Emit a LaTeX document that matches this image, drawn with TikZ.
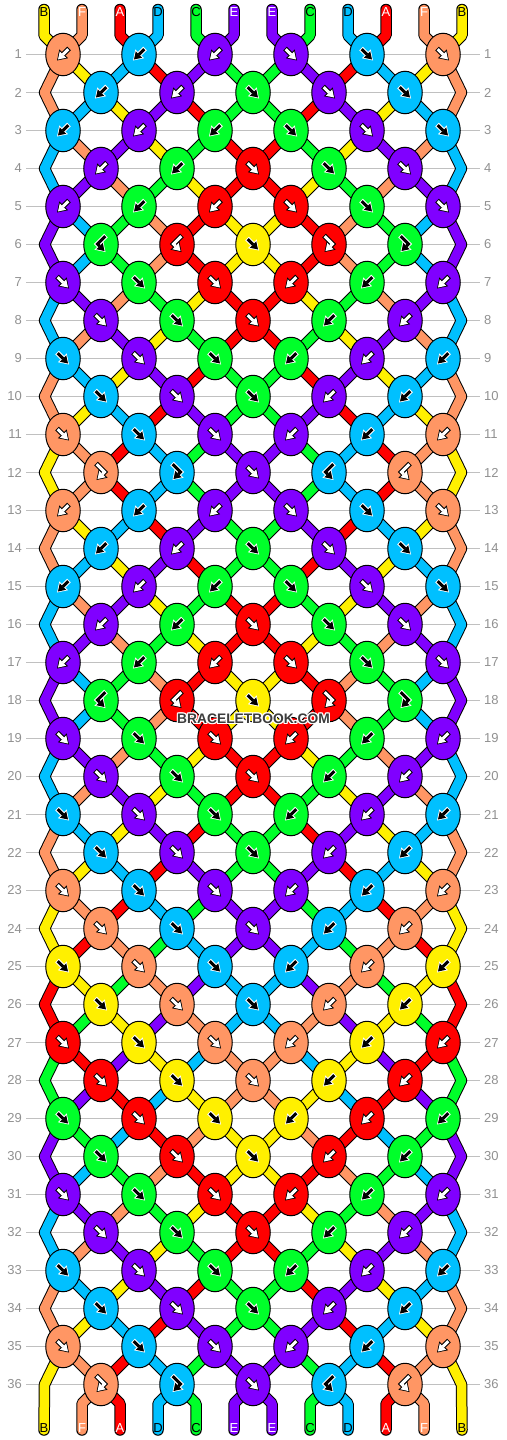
\documentclass[tikz,border=0pt]{standalone}
\usepackage{fontspec}
\setmainfont{Liberation Sans}
\usetikzlibrary{arrows.meta,shapes.geometric}

% thread colours
\definecolor{cA}{RGB}{255,0,0}
\definecolor{cB}{RGB}{255,240,0}
\definecolor{cC}{RGB}{0,255,42}
\definecolor{cD}{RGB}{0,192,255}
\definecolor{cE}{RGB}{128,0,255}
\definecolor{cF}{RGB}{255,150,100}
% arrow / letter colours per thread
\colorlet{fgA}{white}\colorlet{olA}{black}
\colorlet{fgB}{black}\colorlet{olB}{white}
\colorlet{fgC}{black}\colorlet{olC}{white}
\colorlet{fgD}{black}\colorlet{olD}{white}
\colorlet{fgE}{white}\colorlet{olE}{black}
\colorlet{fgF}{white}\colorlet{olF}{black}
\definecolor{gridgray}{RGB}{192,192,192}
\definecolor{numgray}{RGB}{145,145,145}
\definecolor{wmgray}{RGB}{60,60,60}

\tikzset{
  gridline/.style={draw=gridgray, line width=1pt},
  rownum/.style={text=numgray, font=\fontsize{13}{13}\selectfont, inner sep=0pt},
  strandout/.style={draw=black, line width=11.5pt, line join=round},
  strandin/.style={line width=9.5pt, line join=round},
  knot/.style={ellipse, draw=black, line width=1pt, minimum width=34.5pt, minimum height=42.5pt, inner sep=0pt},
  endletter/.style={font=\fontsize{13}{13}\selectfont, inner sep=0pt},
  arrback/.style={draw=al, line width=5pt, -{Triangle[length=9.5pt,width=12.5pt,line width=0pt]}},
  arrfront/.style={draw=af, line width=3pt, shorten <=1pt, shorten >=1.4pt, -{Triangle[length=7pt,width=9pt,line width=0pt]}},
  wmark/.style={font=\bfseries\fontsize{13.8}{13.8}\selectfont, inner sep=0pt}
}

% knot arrows: forward, backward, forward-backward, backward-forward
\newcommand\arrf{\draw[arrback] (-6,-6) -- (6,6); \draw[arrfront] (-6,-6) -- (6,6);}
\newcommand\arrb{\draw[arrback] (6,-6) -- (-6,6); \draw[arrfront] (6,-6) -- (-6,6);}
\newcommand\arrfb{\draw[arrback] (-5,-9) -- (3.5,-0.5) -- (-4.5,7.5); \draw[arrfront] (-5,-9) -- (3.5,-0.5) -- (-4.5,7.5);}
\newcommand\arrbf{\draw[arrback] (5,-9) -- (-3.5,-0.5) -- (4.5,7.5); \draw[arrfront] (5,-9) -- (-3.5,-0.5) -- (4.5,7.5);}

\begin{document}
\begin{tikzpicture}[x=1pt,y=-1pt]
\useasboundingbox (0,0) rectangle (506,1440);
\fill[white] (0,0) rectangle (506,1440);

% knot centres
\foreach \r in {1,...,36}{
  \pgfmathtruncatemacro\nk{5+mod(\r,2)}
  \foreach \k in {1,...,\nk}
    \coordinate (k\r-\k) at ({25+38*(2*\k-mod(\r,2))},{16.5+38*\r});
}
% edge turns
\foreach \r in {2,4,...,36}{
  \coordinate (eL\r) at (44.5,{16.5+38*\r});
  \coordinate (eR\r) at (461.5,{16.5+38*\r});
}
% thread ends
\foreach \p in {1,...,12}{
  \coordinate (top\p) at ({6+38*\p},9.5);
  \coordinate (tbend\p) at ({6+38*\p},35.5);
  \coordinate (bbend\p) at ({6+38*\p},1403.5);
  \coordinate (bot\p) at ({6+38*\p},1430);
}

% row lines and numbers
\foreach \r in {1,...,36}{
  \coordinate (gl\r) at (26,{16.5+38*\r});
  \coordinate (gr\r) at (480,{16.5+38*\r});
  \draw[gridline] (gl\r) -- (gr\r);
  \node[rownum, anchor=east] (nl\r) at (22,{16.5+38*\r}) {\r};
  \node[rownum, anchor=west] (nr\r) at (484,{16.5+38*\r}) {\r};
}

% top threads
\foreach \c [count=\p] in {B,F,A,D,C,E,E,C,D,A,F,B}{
  \pgfmathtruncatemacro\kt{(\p+1)/2}
  \draw[strandout, line cap=round] (top\p) -- (tbend\p) -- (k1-\kt);
  \draw[strandin, line cap=round, draw=c\c] (top\p) -- (tbend\p) -- (k1-\kt);
}

% threads between knots (colour after row \r)
\foreach \r/\s in {
  1/{F,B,D,A,E,C,C,E,A,D,B,F},
  2/{F,D,B,E,A,C,C,A,E,B,D,F},
  3/{D,F,E,B,C,A,A,C,B,E,F,D},
  4/{D,E,F,C,B,A,A,B,C,F,E,D},
  5/{E,D,C,F,A,B,B,A,F,C,D,E},
  6/{E,D,C,F,A,B,B,A,F,C,D,E},
  7/{D,E,F,C,B,A,A,B,C,F,E,D},
  8/{D,F,E,B,C,A,A,C,B,E,F,D},
  9/{F,D,B,E,A,C,C,A,E,B,D,F},
  10/{F,B,D,A,E,C,C,E,A,D,B,F},
  11/{B,F,A,D,C,E,E,C,D,A,F,B},
  12/{B,F,A,D,C,E,E,C,D,A,F,B},
  13/{F,B,D,A,E,C,C,E,A,D,B,F},
  14/{F,D,B,E,A,C,C,A,E,B,D,F},
  15/{D,F,E,B,C,A,A,C,B,E,F,D},
  16/{D,E,F,C,B,A,A,B,C,F,E,D},
  17/{E,D,C,F,A,B,B,A,F,C,D,E},
  18/{E,D,C,F,A,B,B,A,F,C,D,E},
  19/{D,E,F,C,B,A,A,B,C,F,E,D},
  20/{D,F,E,B,C,A,A,C,B,E,F,D},
  21/{F,D,B,E,A,C,C,A,E,B,D,F},
  22/{F,B,D,A,E,C,C,E,A,D,B,F},
  23/{B,F,A,D,C,E,E,C,D,A,F,B},
  24/{B,A,F,C,D,E,E,D,C,F,A,B},
  25/{A,B,C,F,E,D,D,E,F,C,B,A},
  26/{A,C,B,E,F,D,D,F,E,B,C,A},
  27/{C,A,E,B,D,F,F,D,B,E,A,C},
  28/{C,E,A,D,B,F,F,B,D,A,E,C},
  29/{E,C,D,A,F,B,B,F,A,D,C,E},
  30/{E,D,C,F,A,B,B,A,F,C,D,E},
  31/{D,E,F,C,B,A,A,B,C,F,E,D},
  32/{D,F,E,B,C,A,A,C,B,E,F,D},
  33/{F,D,B,E,A,C,C,A,E,B,D,F},
  34/{F,B,D,A,E,C,C,E,A,D,B,F},
  35/{B,F,A,D,C,E,E,C,D,A,F,B}}{
  \pgfmathtruncatemacro\rn{\r+1}
  \foreach \c [count=\p] in \s {
    \ifnum\p>1 \ifnum\p<12
      \pgfmathtruncatemacro\ka{(\p-mod(\p+mod(\r,2),2)+mod(\r,2))/2}
      \pgfmathtruncatemacro\kb{(\p-mod(\p+mod(\rn,2),2)+mod(\rn,2))/2}
      \draw[strandout] (k\r-\ka) -- (k\rn-\kb);
      \draw[strandin, draw=c\c] (k\r-\ka) -- (k\rn-\kb);
    \fi\fi
  }
}

% outer threads turning at even rows
\foreach \r/\c in {2/F,4/D,6/E,8/D,10/F,12/B,14/F,16/D,18/E,20/D,22/F,24/B,26/A,28/C,30/E,32/D,34/F}{
  \pgfmathtruncatemacro\ra{\r-1}
  \pgfmathtruncatemacro\rb{\r+1}
  \foreach \sd/\kk in {L/1,R/6}{
    \draw[strandout] (k\ra-\kk) -- (e\sd\r) -- (k\rb-\kk);
    \draw[strandin, draw=c\c] (k\ra-\kk) -- (e\sd\r) -- (k\rb-\kk);
  }
}
\foreach \sd/\kk/\p in {L/1/1,R/6/12}{
  \draw[strandout, line cap=round] (k35-\kk) -- (e\sd36) -- (bot\p);
  \draw[strandin, line cap=round, draw=cB] (k35-\kk) -- (e\sd36) -- (bot\p);
}

% bottom threads
\foreach \c [count=\p] in {B,F,A,D,C,E,E,C,D,A,F,B}{
  \ifnum\p>1 \ifnum\p<12
    \pgfmathtruncatemacro\kl{\p/2}
    \draw[strandout, line cap=round] (k36-\kl) -- (bbend\p) -- (bot\p);
    \draw[strandin, line cap=round, draw=c\c] (k36-\kl) -- (bbend\p) -- (bot\p);
  \fi\fi
}

% knots: colour/type
\foreach \r/\kn in {
  1/{F/b,D/b,E/b,E/f,D/f,F/f},
  2/{D/b,E/b,C/f,E/f,D/f},
  3/{D/b,E/b,C/b,C/f,E/f,D/f},
  4/{E/b,C/b,A/f,C/f,E/f},
  5/{E/b,C/b,A/b,A/f,C/f,E/f},
  6/{C/bf,A/bf,B/f,A/fb,C/fb},
  7/{E/f,C/f,A/f,A/b,C/b,E/b},
  8/{E/f,C/f,A/f,C/b,E/b},
  9/{D/f,E/f,C/f,C/b,E/b,D/b},
  10/{D/f,E/f,C/f,E/b,D/b},
  11/{F/f,D/f,E/f,E/b,D/b,F/b},
  12/{F/fb,D/fb,E/f,D/bf,F/bf},
  13/{F/b,D/b,E/b,E/f,D/f,F/f},
  14/{D/b,E/b,C/f,E/f,D/f},
  15/{D/b,E/b,C/b,C/f,E/f,D/f},
  16/{E/b,C/b,A/f,C/f,E/f},
  17/{E/b,C/b,A/b,A/f,C/f,E/f},
  18/{C/bf,A/bf,B/f,A/fb,C/fb},
  19/{E/f,C/f,A/f,A/b,C/b,E/b},
  20/{E/f,C/f,A/f,C/b,E/b},
  21/{D/f,E/f,C/f,C/b,E/b,D/b},
  22/{D/f,E/f,C/f,E/b,D/b},
  23/{F/f,D/f,E/f,E/b,D/b,F/b},
  24/{F/f,D/f,E/f,D/b,F/b},
  25/{B/f,F/f,D/f,D/b,F/b,B/b},
  26/{B/f,F/f,D/f,F/b,B/b},
  27/{A/f,B/f,F/f,F/b,B/b,A/b},
  28/{A/f,B/f,F/f,B/b,A/b},
  29/{C/f,A/f,B/f,B/b,A/b,C/b},
  30/{C/f,A/f,B/f,A/b,C/b},
  31/{E/f,C/f,A/f,A/b,C/b,E/b},
  32/{E/f,C/f,A/f,C/b,E/b},
  33/{D/f,E/f,C/f,C/b,E/b,D/b},
  34/{D/f,E/f,C/f,E/b,D/b},
  35/{F/f,D/f,E/f,E/b,D/b,F/b},
  36/{F/fb,D/fb,E/f,D/bf,F/bf}}{
  \foreach \c/\t [count=\k] in \kn {
    \node[knot, fill=c\c] (n\r-\k) at (k\r-\k) {};
    \colorlet{af}{fg\c}\colorlet{al}{ol\c}
    \begin{scope}[shift={(k\r-\k)}]
      \csname arr\t\endcsname
    \end{scope}
  }
}

% thread letters
\foreach \c [count=\p] in {B,F,A,D,C,E,E,C,D,A,F,B}{
  \node[endletter, text=fg\c] (lt\p) at ({6+38*\p},12.5) {\c};
  \node[endletter, text=fg\c] (lb\p) at ({6+38*\p},1428) {\c};
}

% watermark
\foreach \dx/\dy [count=\i] in {-1/-1,0/-1.2,1/-1,-1.2/0,1.2/0,-1/1,0/1.2,1/1}
  \node[wmark, text=white] (wh\i) at ({253.5+\dx},{719+\dy}) {BRACELETBOOK.COM};
\node[wmark, text=wmgray] (wm) at (253.5,719) {BRACELETBOOK.COM};
\end{tikzpicture}
\end{document}
